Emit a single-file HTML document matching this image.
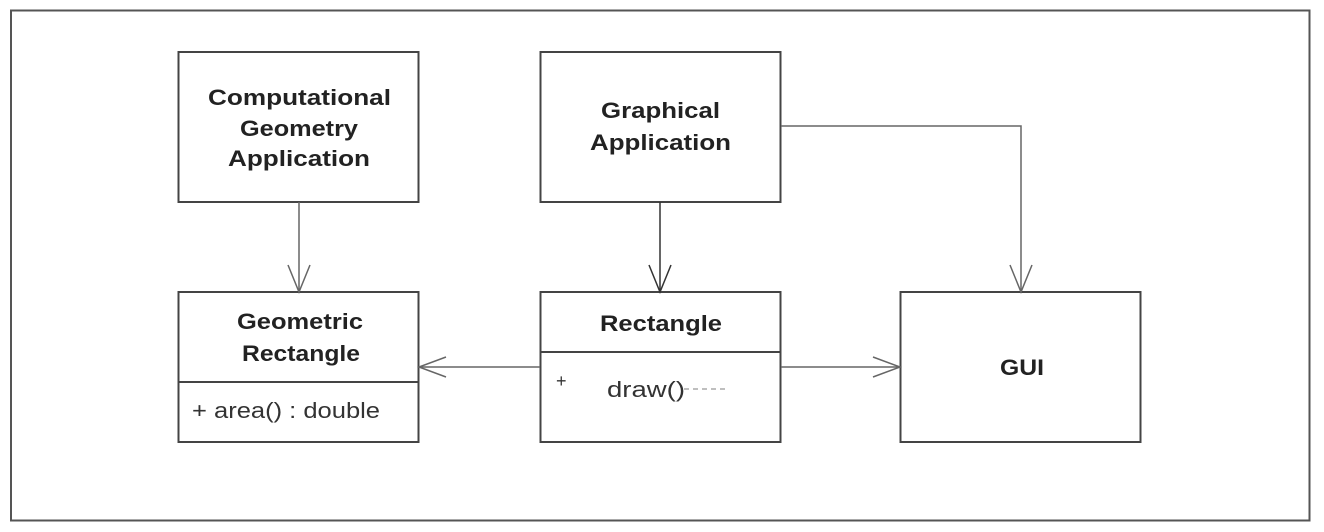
<!DOCTYPE html>
<html><head><style>body{margin:0;background:#fff}svg{display:block}</style></head><body>
<svg width="1324" height="532" xmlns="http://www.w3.org/2000/svg" font-family="Liberation Sans, Arial, sans-serif">
<rect x="0" y="0" width="1324" height="532" fill="#fff"/>
<rect x="11" y="10.5" width="1298.5" height="510" fill="none" stroke="#555" stroke-width="2"/>
<g fill="none" stroke="#444" stroke-width="2">
<rect x="178.5" y="52" width="240" height="150"/>
<rect x="540.5" y="52" width="240" height="150"/>
<rect x="178.5" y="292" width="240" height="150"/>
<line x1="178.5" y1="382" x2="418.5" y2="382"/>
<rect x="540.5" y="292" width="240" height="150"/>
<line x1="540.5" y1="352" x2="780.5" y2="352"/>
<rect x="900.5" y="292" width="240" height="150"/>
</g>
<g fill="none" stroke="#666" stroke-width="1.5">
<line x1="299" y1="202" x2="299" y2="292"/>
<polyline points="288,265 299,292 310,265"/>
<line x1="660" y1="202" x2="660" y2="292" stroke="#333"/>
<polyline points="649,265 660,292 671,265" stroke="#333"/>
<polyline points="781,126 1021,126 1021,292"/>
<polyline points="1010,265 1021,292 1032,265"/>
<line x1="540" y1="367" x2="419" y2="367"/>
<polyline points="446,357 419,367 446,377"/>
<line x1="781" y1="367" x2="900" y2="367"/>
<polyline points="873,357 900,367 873,377"/>
</g>
<g fill="#222" font-weight="bold" font-size="22" lengthAdjust="spacingAndGlyphs">
<text x="208" y="105" textLength="183" lengthAdjust="spacingAndGlyphs">Computational</text>
<text x="240" y="136" textLength="118" lengthAdjust="spacingAndGlyphs">Geometry</text>
<text x="228" y="166" textLength="142" lengthAdjust="spacingAndGlyphs">Application</text>
<text x="601" y="118" textLength="119" lengthAdjust="spacingAndGlyphs">Graphical</text>
<text x="590" y="150" textLength="141" lengthAdjust="spacingAndGlyphs">Application</text>
<text x="237" y="329" textLength="126" lengthAdjust="spacingAndGlyphs">Geometric</text>
<text x="242" y="361" textLength="118" lengthAdjust="spacingAndGlyphs">Rectangle</text>
<text x="600" y="331" textLength="122" lengthAdjust="spacingAndGlyphs">Rectangle</text>
<text x="1000" y="375" textLength="44" lengthAdjust="spacingAndGlyphs">GUI</text>
</g>
<g fill="#333" font-size="22">
<text x="192" y="418" textLength="188" lengthAdjust="spacingAndGlyphs">+ area() : double</text>
<text x="556" y="387" font-size="18">+</text>
<text x="607" y="397" textLength="78" lengthAdjust="spacingAndGlyphs">draw()</text>
</g>
<line x1="684" y1="389" x2="728" y2="389" stroke="#999" stroke-width="1.2" stroke-dasharray="5,4"/>
</svg>
</body></html>
